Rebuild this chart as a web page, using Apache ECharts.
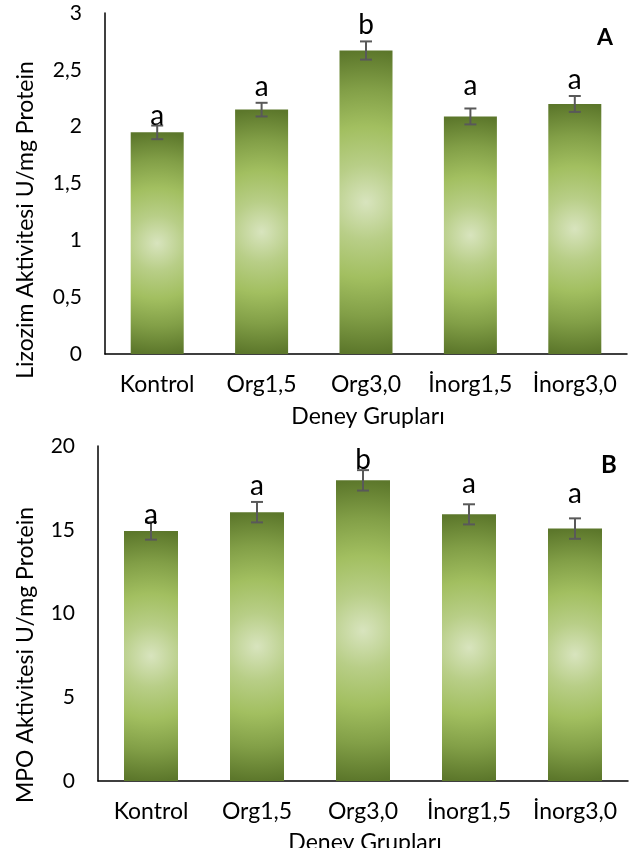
<!DOCTYPE html>
<html>
<head>
<meta charset="utf-8">
<style>
  html, body { margin: 0; padding: 0; background: #fff; }
  #chart { width: 629px; height: 848px; }
</style>
<script src="https://cdn.jsdelivr.net/npm/echarts@6/dist/echarts.min.js"></script>
</head>
<body>
<div id="chart"></div>
<script>
// Group names on the category axis
const categories = ['Kontrol', 'Org1,5', 'Org3,0', 'İnorg1,5', 'İnorg3,0'];

// Panel A: lysozyme activity (U/mg protein), mean ± error
const lizozimMeans = [1.95, 2.15, 2.67, 2.09, 2.20];
const lizozimErrors = [0.06, 0.06, 0.08, 0.07, 0.07];
const lizozimLetters = ['a', 'a', 'b', 'a', 'a'];
const lizozimTicks = ['0', '0,5', '1', '1,5', '2', '2,5', '3'];

// Panel B: MPO activity (U/mg protein), mean ± error
const mpoMeans = [14.93, 16.05, 17.95, 15.92, 15.07];
const mpoErrors = [0.52, 0.61, 0.61, 0.60, 0.61];
const mpoLetters = ['a', 'a', 'b', 'a', 'a'];
const mpoTicks = ['0', '5', '10', '15', '20'];

const FONT = 'Lato, "Open Sans", sans-serif';

// layout of the two panels (pixels)
const panels = [
  { left: 105, top: 13, right: 2, height: 341, max: 3, interval: 0.5, barW: 53, lift: [0, 6, 6, 13, 6] },
  { left: 98, top: 446, right: 1, height: 335, max: 20, interval: 5, barW: 54, lift: [-3, 6, 0, 10, 14] }
];

// radial "centre glow" fill of each bar, sized so the dark rim meets top and bottom
function barFill(value, p) {
  const h = value / p.max * p.height;
  const r = (h / 2) / p.barW;
  return {
    type: 'radial', x: 0.5, y: 0.5, r: r,
    colorStops: [
      { offset: 0, color: '#d8e4be' },
      { offset: 0.25, color: '#b8ce87' },
      { offset: 0.5, color: '#a2bf60' },
      { offset: 0.75, color: '#829f47' },
      { offset: 1, color: '#5c772b' }
    ]
  };
}

function barData(means, p) {
  return means.map(v => ({ value: v, itemStyle: { color: barFill(v, p) } }));
}

function errorSeries(idx, means, errors, letters, p) {
  return {
    type: 'custom',
    xAxisIndex: idx, yAxisIndex: idx,
    z: 5,
    encode: { x: 0, y: 1 },
    data: means.map((m, i) => [i, m, errors[i]]),
    renderItem: function (params, api) {
      const i = api.value(0), m = api.value(1), e = api.value(2);
      const hi = api.coord([i, m + e]);
      const lo = api.coord([i, m - e]);
      const cap = 6;
      const ls = { stroke: '#595959', lineWidth: 2 };
      return {
        type: 'group',
        children: [
          { type: 'line', shape: { x1: hi[0], y1: hi[1], x2: lo[0], y2: lo[1] }, style: ls },
          { type: 'line', shape: { x1: hi[0] - cap, y1: hi[1], x2: hi[0] + cap, y2: hi[1] }, style: ls },
          { type: 'line', shape: { x1: lo[0] - cap, y1: lo[1], x2: lo[0] + cap, y2: lo[1] }, style: ls },
          {
            type: 'text', z2: 10,
            x: hi[0], y: hi[1] - p.lift[params.dataIndex] + 4,
            style: {
              text: letters[params.dataIndex],
              fill: '#000',
              font: '28px ' + FONT,
              align: 'center',
              verticalAlign: 'bottom'
            }
          }
        ]
      };
    }
  };
}

const axisLine = { show: true, lineStyle: { color: '#000', width: 1.5 } };

const option = {
  animation: false,
  backgroundColor: '#fff',
  grid: panels.map(p => ({ left: p.left, top: p.top, right: p.right, height: p.height })),
  xAxis: panels.map((p, i) => ({
    type: 'category', gridIndex: i, data: categories,
    axisLine: axisLine, axisTick: { show: false },
    axisLabel: { color: '#000', fontFamily: FONT, fontSize: 23, margin: 19, interval: 0 }
  })),
  yAxis: [
    {
      type: 'value', gridIndex: 0, min: 0, max: panels[0].max, interval: panels[0].interval,
      axisLine: axisLine, axisTick: { show: false }, splitLine: { show: false },
      axisLabel: { color: '#000', fontFamily: FONT, fontSize: 21, margin: 23,
        formatter: v => lizozimTicks[Math.round(v / panels[0].interval)] }
    },
    {
      type: 'value', gridIndex: 1, min: 0, max: panels[1].max, interval: panels[1].interval,
      axisLine: axisLine, axisTick: { show: false }, splitLine: { show: false },
      axisLabel: { color: '#000', fontFamily: FONT, fontSize: 21, margin: 23,
        formatter: v => mpoTicks[Math.round(v / panels[1].interval)] }
    }
  ],
  series: [
    { type: 'bar', xAxisIndex: 0, yAxisIndex: 0, barWidth: panels[0].barW, data: barData(lizozimMeans, panels[0]) },
    errorSeries(0, lizozimMeans, lizozimErrors, lizozimLetters, panels[0]),
    { type: 'bar', xAxisIndex: 1, yAxisIndex: 1, barWidth: panels[1].barW, data: barData(mpoMeans, panels[1]) },
    errorSeries(1, mpoMeans, mpoErrors, mpoLetters, panels[1])
  ],
  graphic: [
    { type: 'text', x: 26, y: 220, rotation: Math.PI / 2,
      style: { text: 'Lizozim Aktivitesi U/mg Protein', font: '23px ' + FONT, fill: '#000', align: 'center', verticalAlign: 'middle' } },
    { type: 'text', x: 368, y: 417,
      style: { text: 'Deney Grupları', font: '23px ' + FONT, fill: '#000', align: 'center', verticalAlign: 'middle' } },
    { type: 'text', x: 605, y: 38,
      style: { text: 'A', font: 'bold 23px ' + FONT, fill: '#000', align: 'center', verticalAlign: 'middle' } },
    { type: 'text', x: 26, y: 655, rotation: Math.PI / 2,
      style: { text: 'MPO Aktivitesi U/mg Protein', font: '23px ' + FONT, fill: '#000', align: 'center', verticalAlign: 'middle' } },
    { type: 'text', x: 365, y: 843,
      style: { text: 'Deney Grupları', font: '23px ' + FONT, fill: '#000', align: 'center', verticalAlign: 'middle' } },
    { type: 'text', x: 609, y: 465,
      style: { text: 'B', font: 'bold 24px ' + FONT, fill: '#000', align: 'center', verticalAlign: 'middle' } }
  ]
};

const chart = echarts.init(document.getElementById('chart'), null, { renderer: 'canvas' });
chart.setOption(option);
</script>
</body>
</html>
